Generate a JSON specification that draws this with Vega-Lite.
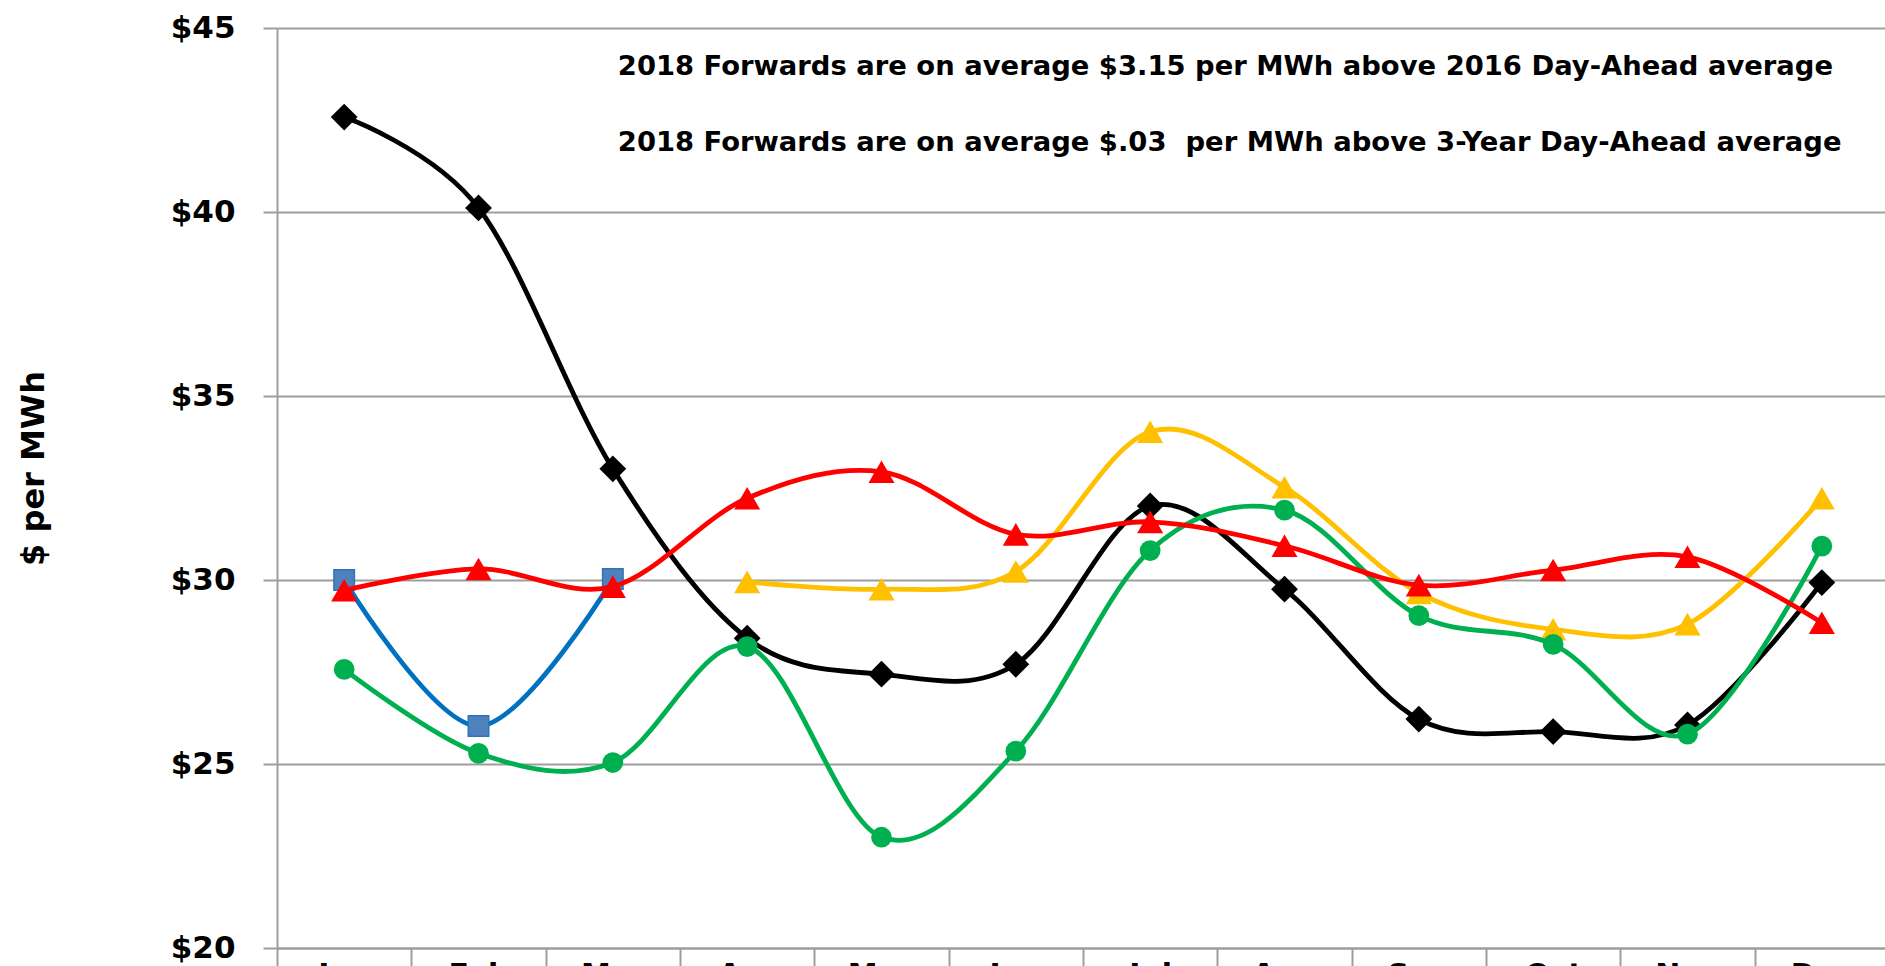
{
  "$schema": "https://vega.github.io/schema/vega-lite/v6.json",
  "width": 1608,
  "height": 920,
  "autosize": {"type": "none"},
  "padding": {"left": 277, "top": 28, "right": 0, "bottom": 18},
  "background": "white",
  "config": {"view": {"stroke": null}, "font": "DejaVu Sans"},
  "datasets": {
    "prices": [
      {"series": "3-Year Day-Ahead Average", "month": "Jan", "value": 42.58},
      {"series": "3-Year Day-Ahead Average", "month": "Feb", "value": 40.11},
      {"series": "3-Year Day-Ahead Average", "month": "Mar", "value": 33.02},
      {"series": "3-Year Day-Ahead Average", "month": "Apr", "value": 28.42},
      {"series": "3-Year Day-Ahead Average", "month": "May", "value": 27.44},
      {"series": "3-Year Day-Ahead Average", "month": "Jun", "value": 27.71},
      {"series": "3-Year Day-Ahead Average", "month": "Jul", "value": 32.01},
      {"series": "3-Year Day-Ahead Average", "month": "Aug", "value": 29.75},
      {"series": "3-Year Day-Ahead Average", "month": "Sep", "value": 26.22},
      {"series": "3-Year Day-Ahead Average", "month": "Oct", "value": 25.88},
      {"series": "3-Year Day-Ahead Average", "month": "Nov", "value": 26.06},
      {"series": "3-Year Day-Ahead Average", "month": "Dec", "value": 29.93},
      {"series": "2017 Day-Ahead", "month": "Jan", "value": 30.0},
      {"series": "2017 Day-Ahead", "month": "Feb", "value": 26.03},
      {"series": "2017 Day-Ahead", "month": "Mar", "value": 30.03},
      {"series": "2017 Forwards", "month": "Apr", "value": 29.95},
      {"series": "2017 Forwards", "month": "May", "value": 29.75},
      {"series": "2017 Forwards", "month": "Jun", "value": 30.23},
      {"series": "2017 Forwards", "month": "Jul", "value": 34.03},
      {"series": "2017 Forwards", "month": "Aug", "value": 32.52},
      {"series": "2017 Forwards", "month": "Sep", "value": 29.65},
      {"series": "2017 Forwards", "month": "Oct", "value": 28.66},
      {"series": "2017 Forwards", "month": "Nov", "value": 28.8},
      {"series": "2017 Forwards", "month": "Dec", "value": 32.22},
      {"series": "2016 Day-Ahead", "month": "Jan", "value": 27.57},
      {"series": "2016 Day-Ahead", "month": "Feb", "value": 25.29},
      {"series": "2016 Day-Ahead", "month": "Mar", "value": 25.04},
      {"series": "2016 Day-Ahead", "month": "Apr", "value": 28.19},
      {"series": "2016 Day-Ahead", "month": "May", "value": 23.01},
      {"series": "2016 Day-Ahead", "month": "Jun", "value": 25.35},
      {"series": "2016 Day-Ahead", "month": "Jul", "value": 30.8},
      {"series": "2016 Day-Ahead", "month": "Aug", "value": 31.9},
      {"series": "2016 Day-Ahead", "month": "Sep", "value": 29.03},
      {"series": "2016 Day-Ahead", "month": "Oct", "value": 28.25},
      {"series": "2016 Day-Ahead", "month": "Nov", "value": 25.81},
      {"series": "2016 Day-Ahead", "month": "Dec", "value": 30.92},
      {"series": "2018 Forwards", "month": "Jan", "value": 29.72},
      {"series": "2018 Forwards", "month": "Feb", "value": 30.3},
      {"series": "2018 Forwards", "month": "Mar", "value": 29.82},
      {"series": "2018 Forwards", "month": "Apr", "value": 32.22},
      {"series": "2018 Forwards", "month": "May", "value": 32.94},
      {"series": "2018 Forwards", "month": "Jun", "value": 31.24},
      {"series": "2018 Forwards", "month": "Jul", "value": 31.58},
      {"series": "2018 Forwards", "month": "Aug", "value": 30.93},
      {"series": "2018 Forwards", "month": "Sep", "value": 29.86},
      {"series": "2018 Forwards", "month": "Oct", "value": 30.27},
      {"series": "2018 Forwards", "month": "Nov", "value": 30.63},
      {"series": "2018 Forwards", "month": "Dec", "value": 28.84}
    ],
    "notes1": [{"note": "2018 Forwards are on average $3.15 per MWh above 2016 Day-Ahead average"}],
    "notes2": [{"note": "2018 Forwards are on average $.03\u00a0 per MWh above 3-Year Day-Ahead average"}]
  },
  "layer": [
    {
      "data": {"name": "prices"},
      "transform": [{"filter": "datum.series === '3-Year Day-Ahead Average'"}],
      "mark": {"type": "line", "interpolate": "cardinal", "tension": 0, "color": "#000000", "strokeWidth": 4.8,
        "point": {"shape": "diamond", "size": 720, "filled": true, "color": "#000000"}},
      "encoding": {
        "x": {
          "field": "month",
          "type": "ordinal",
          "scale": {
            "type": "band",
            "domain": ["Jan", "Feb", "Mar", "Apr", "May", "Jun", "Jul", "Aug", "Sep", "Oct", "Nov", "Dec"],
            "range": [0, 1612],
            "paddingInner": 0,
            "paddingOuter": 0
          },
          "axis": {
            "title": null,
            "grid": false,
            "tickBand": "extent",
            "tickSize": 18,
            "tickColor": "#9d9d9d",
            "tickWidth": 2,
            "domainColor": "#9d9d9d",
            "domainWidth": 2,
            "labelFont": "DejaVu Sans",
            "labelFontWeight": "bold",
            "labelFontSize": 30,
            "labelColor": "black",
            "labelAngle": 0,
            "labelPadding": -6
          }
        },
        "y": {
          "field": "value",
          "type": "quantitative",
          "scale": {"domain": [20, 45], "nice": false, "zero": false},
          "axis": {
            "values": [20, 25, 30, 35, 40, 45],
            "labelExpr": "'$' + datum.value",
            "tickSize": 14,
            "tickColor": "#9d9d9d",
            "tickWidth": 2,
            "grid": true,
            "gridColor": "#9d9d9d",
            "gridWidth": 2,
            "domainColor": "#9d9d9d",
            "domainWidth": 2,
            "labelFont": "DejaVu Sans",
            "labelFontWeight": "bold",
            "labelFontSize": 31,
            "labelColor": "black",
            "labelPadding": 28,
            "title": "$ per MWh",
            "titleFont": "DejaVu Sans",
            "titleFontSize": 32,
            "titleFontWeight": "bold",
            "titleColor": "black",
            "titleAngle": 270,
            "titleX": -234,
            "titleY": 440,
            "titleAlign": "center",
            "titleBaseline": "alphabetic"
          }
        }
      }
    },
    {
      "data": {"name": "prices"},
      "transform": [{"filter": "datum.series === '2017 Day-Ahead'"}],
      "mark": {"type": "line", "interpolate": "cardinal", "tension": 0, "color": "#0070C0", "strokeWidth": 4.8,
        "point": {"shape": "square", "size": 420, "filled": true, "fill": "#4F81BD", "stroke": "#2E75B6", "strokeWidth": 1.5}},
      "encoding": {"x": {"field": "month", "type": "ordinal"}, "y": {"field": "value", "type": "quantitative"}}
    },
    {
      "data": {"name": "prices"},
      "transform": [{"filter": "datum.series === '2017 Forwards'"}],
      "mark": {"type": "line", "interpolate": "cardinal", "tension": 0, "color": "#FFC000", "strokeWidth": 4.8,
        "point": {"shape": "triangle-up", "size": 680, "filled": true, "color": "#FFC000"}},
      "encoding": {"x": {"field": "month", "type": "ordinal"}, "y": {"field": "value", "type": "quantitative"}}
    },
    {
      "data": {"name": "prices"},
      "transform": [{"filter": "datum.series === '2016 Day-Ahead'"}],
      "mark": {"type": "line", "interpolate": "cardinal", "tension": 0, "color": "#00B050", "strokeWidth": 4.8,
        "point": {"shape": "circle", "size": 430, "filled": true, "color": "#00B050"}},
      "encoding": {"x": {"field": "month", "type": "ordinal"}, "y": {"field": "value", "type": "quantitative"}}
    },
    {
      "data": {"name": "prices"},
      "transform": [{"filter": "datum.series === '2018 Forwards'"}],
      "mark": {"type": "line", "interpolate": "cardinal", "tension": 0, "color": "#FF0000", "strokeWidth": 4.8,
        "point": {"shape": "triangle-up", "size": 680, "filled": true, "color": "#FF0000"}},
      "encoding": {"x": {"field": "month", "type": "ordinal"}, "y": {"field": "value", "type": "quantitative"}}
    },
    {
      "data": {"name": "notes1"},
      "mark": {"type": "text", "align": "left", "baseline": "alphabetic", "font": "DejaVu Sans", "fontWeight": "bold", "fontSize": 27.4, "color": "black", "dx": 5},
      "encoding": {"x": {"datum": "Mar"}, "y": {"datum": 43.72}, "text": {"field": "note", "type": "nominal"}}
    },
    {
      "data": {"name": "notes2"},
      "mark": {"type": "text", "align": "left", "baseline": "alphabetic", "font": "DejaVu Sans", "fontWeight": "bold", "fontSize": 27.4, "color": "black", "dx": 5},
      "encoding": {"x": {"datum": "Mar"}, "y": {"datum": 41.67}, "text": {"field": "note", "type": "nominal"}}
    }
  ]
}
